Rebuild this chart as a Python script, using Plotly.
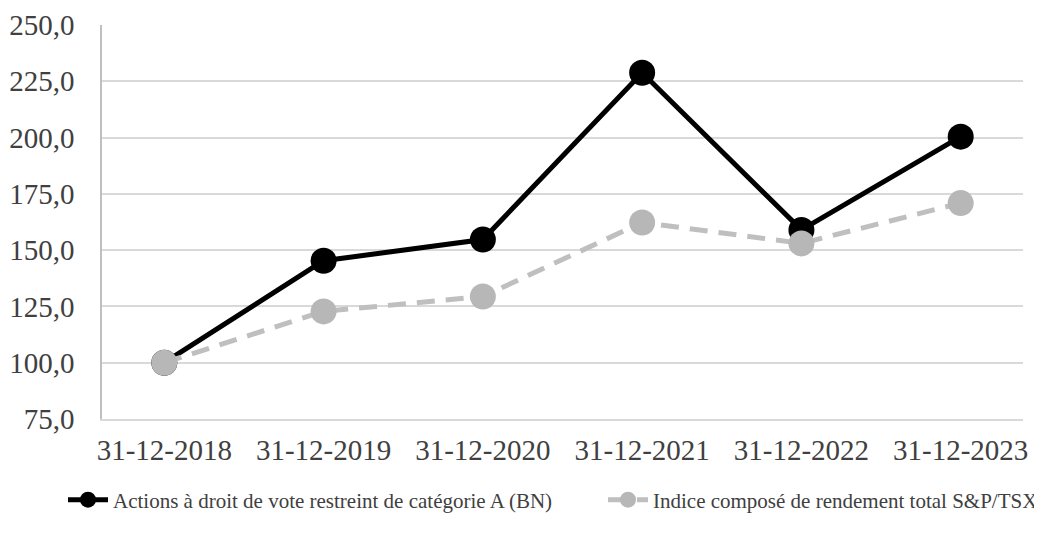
import plotly.graph_objects as go

dates = ["31-12-2018", "31-12-2019", "31-12-2020", "31-12-2021", "31-12-2022", "31-12-2023"]
bn_values = [100.0, 145.3, 154.7, 228.8, 159.0, 200.4]
tsx_values = [100.0, 122.8, 129.4, 162.3, 153.0, 170.9]
bn_name = "Actions à droit de vote restreint de catégorie A (BN)"
tsx_name = "Indice composé de rendement total S&P/TSX"
y_ticks = [75, 100, 125, 150, 175, 200, 225, 250]

FONT = "Liberation Serif"
W, H = 1040, 533

fig = go.Figure()
fig.add_trace(go.Scatter(
    x=dates, y=bn_values, name=bn_name, mode="lines+markers",
    line=dict(color="#000000", width=5),
    marker=dict(color="#000000", size=26),
    legend="legend",
))
fig.add_trace(go.Scatter(
    x=dates, y=tsx_values, name=tsx_name, mode="lines+markers",
    line=dict(color="#bfbfbf", width=5, dash="18px,11px"),
    marker=dict(color="#b7b7b7", size=26),
    legend="legend2",
))

leg_common = dict(
    orientation="h", xref="container", xanchor="left",
    yref="container", yanchor="middle", y=1 - 492 / H,
    font=dict(family=FONT, size=21, color="#404040"),
    itemwidth=40, bgcolor="rgba(0,0,0,0)",
)

fig.update_layout(
    width=W, height=H,
    margin=dict(l=94, r=25, t=17, b=122, autoexpand=False),
    paper_bgcolor="white", plot_bgcolor="white",
    separators=", ",
    font=dict(family=FONT, color="#404040"),
    showlegend=True,
    legend=dict(x=55 / W, **leg_common),
    legend2=dict(x=595 / W, **leg_common),
)
fig.update_xaxes(
    type="category", showgrid=False, showline=True, linecolor="#d9d9d9", linewidth=1.5,
    tickfont=dict(family=FONT, size=29, color="#404040"), ticks="", ticklabelstandoff=4,
    automargin=False,
)
fig.update_yaxes(
    range=[75, 250], tickvals=y_ticks, tickformat=".1f",
    showgrid=True, gridcolor="#d9d9d9", gridwidth=1.5,
    showline=True, linecolor="#bfbfbf", linewidth=1.5, zeroline=False,
    tickfont=dict(family=FONT, size=29, color="#404040"), ticks="", ticklabelstandoff=20,
    automargin=False,
)

fig.write_html("out.html")
